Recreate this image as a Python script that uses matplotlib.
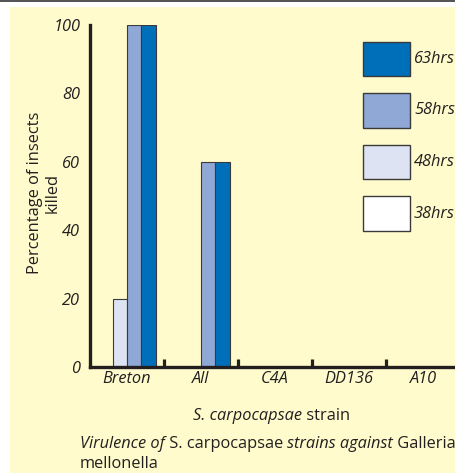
import matplotlib
matplotlib.use("Agg")
import matplotlib.pyplot as plt
from matplotlib.patches import Rectangle
import numpy as np

plt.rcParams['font.family'] = ['Open Sans', 'DejaVu Sans']

# 数据
strains = ['Breton', 'All', 'C4A', 'DD136', 'A10']
series = ['38hrs', '48hrs', '58hrs', '63hrs']
killed_38 = [0, 0, 0, 0, 0]
killed_48 = [20, 0, 0, 0, 0]
killed_58 = [100, 60, 0, 0, 0]
killed_63 = [100, 60, 0, 0, 0]
y_ticks = [0, 20, 40, 60, 80, 100]
y_marks = [40, 60]   # 原图只有这两个刻度有短线

colors = ['#ffffff', '#dde3f2', '#8fa8d6', '#006fba']
ink = '#231f20'
bg = '#fffbcc'
fs = 11.8

W, H = 455, 473
fig = plt.figure(figsize=(W / 100, H / 100), dpi=100)
fig.patch.set_facecolor('white')

# 背景和顶部线条
fig.patches.append(Rectangle((10 / W, 0), 1, 1 - 7 / H, transform=fig.transFigure,
                             facecolor=bg, edgecolor='none', zorder=-5))
fig.patches.append(Rectangle((0, 1 - 2 / H), 1, 2 / H, transform=fig.transFigure,
                             facecolor='#555555', edgecolor='none', zorder=-5))

ax = fig.add_axes([90 / W, 1 - 367 / H, 370 / W, 342 / H])
ax.set_facecolor('none')
ax.set_zorder(1)

x = np.arange(len(strains)) + 0.5
w = 0.195
data = [killed_38, killed_48, killed_58, killed_63]
for i, (vals, c) in enumerate(zip(data, colors)):
    ax.bar(x + (i - 1.5) * w, vals, width=w, color=c, edgecolor='#3a3a3a',
           linewidth=0.8, zorder=2)

ax.set_xlim(0, 5)
ax.set_ylim(0, 100)
for s in ['top', 'right']:
    ax.spines[s].set_visible(False)
for s in ['left', 'bottom']:
    ax.spines[s].set_linewidth(2.4)
    ax.spines[s].set_color(ink)
    ax.spines[s].set_capstyle('projecting')

ax.set_yticks(y_ticks)
ax.set_yticklabels([str(v) for v in y_ticks], fontstyle='italic', fontsize=fs, color=ink)
ax.tick_params(axis='y', which='major', length=0, pad=7)
ax.set_yticks(y_marks, minor=True)
ax.tick_params(axis='y', which='minor', direction='in', length=7, width=1.6, color=ink)

ax.set_xticks(x)
ax.set_xticklabels(strains, fontstyle='italic', fontsize=fs, color=ink)
ax.tick_params(axis='x', which='major', length=0, pad=3)
ax.set_xticks([1, 2, 3, 4], minor=True)
ax.tick_params(axis='x', which='minor', direction='in', length=6, width=2.3, color=ink)

# 图例
for i, (lab, c) in enumerate(zip(series[::-1], colors[::-1])):
    top = 42 + i * 51.5
    fig.patches.append(Rectangle((363 / W, 1 - (top + 34) / H), 47 / W, 34 / H,
                                 transform=fig.transFigure, facecolor=c,
                                 edgecolor='#3a3a3a', linewidth=1.0, zorder=3))
    fig.text(414 / W, 1 - (top + 17) / H, lab, fontstyle='italic', fontsize=fs,
             color=ink, va='center', ha='left')

fig.text(44 / W, 1 - 193 / H, 'Percentage of insects\nkilled', rotation=90,
         ha='center', va='center', fontsize=fs, color=ink, linespacing=1.1)


def draw_pieces(pieces, x0, y0, center=False):
    fig.canvas.draw()
    r = fig.canvas.get_renderer()
    objs = []
    xx = x0
    for txt, style in pieces:
        t = fig.text(xx, y0, txt, fontstyle=style, fontsize=fs, color=ink,
                     ha='left', va='baseline')
        bb = t.get_window_extent(r)
        xx += bb.width / W
        objs.append(t)
    if center:
        shift = (xx - x0) / 2
        for t in objs:
            px, py = t.get_position()
            t.set_position((px - shift, py))


draw_pieces([('S. carpocapsae', 'italic'), (' strain', 'normal')], 272 / W, 1 - 420 / H, center=True)
draw_pieces([('Virulence of', 'italic'), (' S. carpocapsae ', 'normal'),
             ('strains against', 'italic'), (' Galleria', 'normal')], 80 / W, 1 - 448 / H)
draw_pieces([('mellonella', 'normal')], 80 / W, 1 - 468 / H)

fig.savefig('out.png', dpi=100, facecolor=fig.get_facecolor())
